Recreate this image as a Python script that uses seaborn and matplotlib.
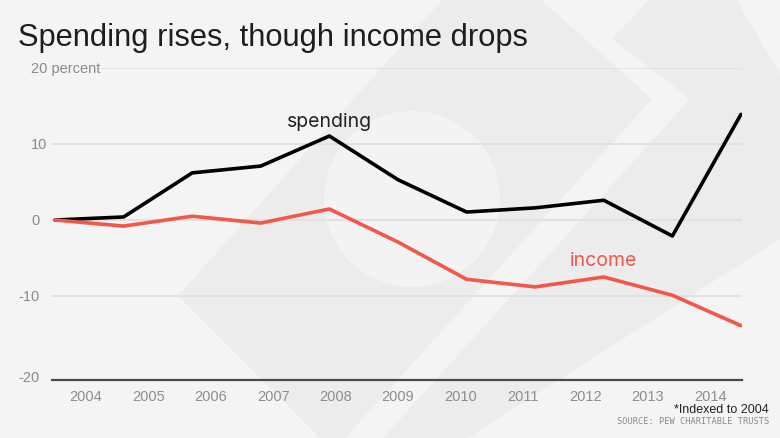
import numpy as np
import pandas as pd
import matplotlib
matplotlib.use("Agg")
import matplotlib.pyplot as plt
from matplotlib.patches import Polygon, Circle
import seaborn as sns

# Data (percent change, indexed to 2004)
years = ["2004", "2005", "2006", "2007", "2008", "2009",
         "2010", "2011", "2012", "2013", "2014"]
spending = [0, 0.4, 6.2, 7.1, 11.05, 5.3, 1.05, 1.6, 2.6, -2.1, 13.9]
income = [0, -0.8, 0.5, -0.4, 1.45, -2.9, -7.8, -8.8, -7.5, -9.9, -13.9]
ytick_vals = [20, 10, 0, -10, -20]
ytick_text = ["20 percent", "10", "0", "-10", "-20"]

df = pd.DataFrame({
    "idx": list(range(len(years))) * 2,
    "value": spending + income,
    "series": ["spending"] * len(years) + ["income"] * len(years),
})

sns.set_style("white")
BG = "#f4f4f4"
DARK = "#ececec"
W, H = 780, 439

fig = plt.figure(figsize=(7.8, 4.39), dpi=100, facecolor=BG)

# background axes in pixel units for the faint logo shapes
bg = fig.add_axes([0, 0, 1, 1], zorder=-5)
bg.set_xlim(0, W)
bg.set_ylim(H, 0)
bg.axis("off")
bg.set_facecolor(BG)
bg.add_patch(Polygon([(178, 297), (443, 0), (540, 0), (652, 100), (345, 439), (320, 439)],
                     closed=True, facecolor=DARK, edgecolor="none"))
bg.add_patch(Polygon([(612, 40), (650, 0), (736, 0), (780, 75), (780, 240),
                      (467, 439), (383, 439), (690, 100)],
                     closed=True, facecolor=DARK, edgecolor="none"))
bg.add_patch(Circle((412, 200), 88, facecolor="#f3f3f3", edgecolor="none"))

ax = fig.add_axes([52 / W, 1 - 381 / H, (742 - 52) / W, (381 - 69) / H], zorder=1)
ax.set_facecolor("none")

sns.lineplot(data=df, x="idx", y="value", hue="series",
             palette={"spending": "#000000", "income": "#f5564a"},
             linewidth=2.6, legend=False, ax=ax)

ax.set_xlim(-0.044, 10.015)
ax.set_ylim(-21.05, 20)
for s in ["top", "right", "left"]:
    ax.spines[s].set_visible(False)
ax.spines["bottom"].set_color("#4a4a4a")
ax.spines["bottom"].set_linewidth(1.6)
ax.set_xticks([])
ax.set_yticks([])
ax.set_xlabel("")
ax.set_ylabel("")

# gridlines
for v in ytick_vals[:-1]:
    xmin = 0.07 if v == 20 else 0
    ax.axhline(v, xmin=xmin, xmax=1, color="#e0e0e3", linewidth=1.3, zorder=0)

# y labels
for v, t in zip(ytick_vals, ytick_text):
    yv = v if v != -20 else -20.6
    if t.startswith("-"):
        ax.text(-0.22, yv, t, ha="right", va="center", fontsize=10.5,
                color="#8a8a8a", family="Liberation Sans", clip_on=False)
    else:
        ax.text(-0.35, yv, t, ha="left", va="center", fontsize=10.5,
                color="#8a8a8a", family="Liberation Sans", clip_on=False)

# year labels
label_pos = np.linspace(0.45, 9.55, len(years))
for xp, y in zip(label_pos, years):
    ax.text(xp, -23.2, y, ha="center", va="center", fontsize=10.5,
            color="#8e8e8e", family="Liberation Sans", clip_on=False)

# series labels
ax.text(4.0, 12.4, "spending", ha="center", va="baseline", fontsize=14,
        color="#222222", family="Inter")
ax.text(7.99, -5.9, "income", ha="center", va="baseline", fontsize=14,
        color="#f5564a", family="Inter")

fig.text(18 / W, 1 - 46 / H, "Spending rises, though income drops", ha="left",
         va="baseline", fontsize=22.2, color="#1e1e1e", family="Liberation Sans")
fig.text(769 / W, 1 - 413 / H, "*Indexed to 2004", ha="right", va="baseline",
         fontsize=9, color="#222222", family="Liberation Sans")
fig.text(769 / W, 1 - 422 / H, "SOURCE: PEW CHARITABLE TRUSTS", ha="right",
         va="center", fontsize=6.2, color="#8a8a8a", family="DejaVu Sans Mono")

fig.savefig("out.png", dpi=100, facecolor=BG)
